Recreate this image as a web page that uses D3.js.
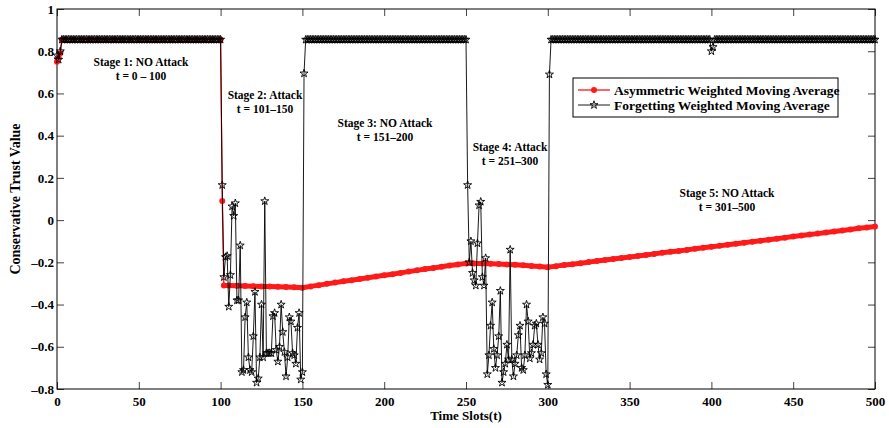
<!DOCTYPE html>
<html>
<head>
<meta charset="utf-8">
<script src="https://cdn.jsdelivr.net/npm/d3@7"></script>
<style>
  body { margin: 0; background: #fff; }
  text { font-family: "Liberation Serif", "Times New Roman", serif; font-weight: bold; fill: #000; }
</style>
</head>
<body>
<svg id="chart" width="889" height="428"></svg>
<script>
// ---- data ----
const xTicks = [0, 50, 100, 150, 200, 250, 300, 350, 400, 450, 500];
const yTicks = [-0.8, -0.6, -0.4, -0.2, 0, 0.2, 0.4, 0.6, 0.8, 1];

// Forgetting WMA: flat stretches at the plateau level, plus the noisy attack windows
const plateauLevel = 0.855;
const plateauRuns = [[3, 100], [152, 250], [302, 399], [402, 500]];
const fwmaOddT = [0, 1, 2, 151, 301, 400, 401];
const fwmaOddV = [0.78, 0.76, 0.80, 0.695, 0.69, 0.80, 0.82];
// t = 101..150
const fwmaStage2 = [0.166, -0.27, -0.175, -0.17, -0.41, -0.26, 0.065, 0.02, 0.08, -0.38,
  -0.38, -0.12, -0.72, -0.71, -0.46, -0.39, -0.65, -0.71, -0.72, -0.55,
  -0.34, -0.77, -0.75, -0.65, -0.40, -0.65, 0.09, -0.63, -0.63, -0.63,
  -0.63, -0.455, -0.44, -0.615, -0.67, -0.60, -0.40, -0.53, -0.625, -0.74,
  -0.65, -0.46, -0.48, -0.63, -0.64, -0.68, -0.51, -0.44, -0.755, -0.72];
// t = 251..300
const fwmaStage4 = [0.166, -0.20, -0.10, -0.25, -0.285, -0.31, -0.11, 0.07, 0.087, -0.27,
  -0.31, -0.18, -0.73, -0.64, -0.50, -0.39, -0.61, -0.70, -0.64, -0.55,
  -0.335, -0.77, -0.72, -0.68, -0.59, -0.66, -0.14, -0.66, -0.74, -0.68,
  -0.64, -0.545, -0.50, -0.70, -0.71, -0.64, -0.40, -0.48, -0.655, -0.63,
  -0.59, -0.50, -0.49, -0.59, -0.66, -0.63, -0.46, -0.49, -0.73, -0.78];

// Asymmetric WMA, sampled every 5 slots (plus the jumps)
const awmaT = [0, 1, 2, 3].concat(d3.range(5, 101, 5), [101, 102], d3.range(105, 501, 5));
const awmaV = [0.75, 0.77, 0.79, 0.855,
  0.855, 0.855, 0.855, 0.855, 0.855, 0.855, 0.855, 0.855, 0.855, 0.855,
  0.855, 0.855, 0.855, 0.855, 0.855, 0.855, 0.855, 0.855, 0.855, 0.855,
  0.09, -0.31,
  -0.31, -0.311, -0.312, -0.313, -0.314, -0.315, -0.316, -0.317, -0.318, -0.32,
  -0.314, -0.308, -0.302, -0.296, -0.29, -0.285, -0.279, -0.273, -0.267, -0.261,
  -0.256, -0.25, -0.244, -0.238, -0.232, -0.227, -0.221, -0.215, -0.21, -0.205,
  -0.205, -0.206, -0.207, -0.208, -0.21, -0.212, -0.214, -0.217, -0.22, -0.223,
  -0.218, -0.213, -0.209, -0.204, -0.199, -0.194, -0.189, -0.184, -0.179, -0.175,
  -0.17, -0.165, -0.16, -0.155, -0.15, -0.146, -0.141, -0.136, -0.131, -0.126,
  -0.122, -0.117, -0.112, -0.107, -0.102, -0.098, -0.093, -0.088, -0.083, -0.078,
  -0.073, -0.068, -0.064, -0.059, -0.054, -0.049, -0.044, -0.039, -0.035, -0.03];

const stageLabels = [
  { lines: ["Stage 1: NO Attack", "t = 0 – 100"], x: 141, y: 66 },
  { lines: ["Stage 2: Attack", "t = 101–150"], x: 265, y: 99 },
  { lines: ["Stage 3: NO Attack", "t = 151–200"], x: 385, y: 127 },
  { lines: ["Stage 4: Attack", "t = 251–300"], x: 510, y: 151 },
  { lines: ["Stage 5: NO Attack", "t = 301–500"], x: 727, y: 197 }
];
const legendNames = ["Asymmetric Weighted Moving Average", "Forgetting Weighted Moving Average"];

// ---- build series ----
let fwma = [];
plateauRuns.forEach(([a, b]) => {
  for (let t = a; t <= b; t++) fwma.push({ t: t, v: plateauLevel });
});
fwmaOddT.forEach((t, i) => fwma.push({ t: t, v: fwmaOddV[i] }));
fwmaStage2.forEach((v, i) => fwma.push({ t: 101 + i, v: v }));
fwmaStage4.forEach((v, i) => fwma.push({ t: 251 + i, v: v }));
fwma.sort((a, b) => a.t - b.t);

const awma = awmaT.map((t, i) => ({ t: t, v: awmaV[i] }));

// ---- layout ----
const svg = d3.select("#chart");
const mLeft = 57, mRight = 875, mTop = 9, mBottom = 389;

const x = d3.scaleLinear().domain([0, 500]).range([mLeft, mRight]);
const y = d3.scaleLinear().domain([-0.8, 1]).range([mBottom, mTop]);

const fmt = d => {
  const r = +d.toFixed(1);
  if (r === 0) return "0";
  return (r < 0 ? "–" : "") + Math.abs(r);
};

// axes with inward ticks
const tick = 7;
svg.append("g")
  .attr("transform", `translate(0,${mBottom})`)
  .call(d3.axisBottom(x).tickValues(xTicks).tickSize(-tick).tickPadding(8).tickFormat(d3.format("d")))
  .call(g => g.select(".domain").remove())
  .call(g => g.selectAll("text").attr("font-size", 13).attr("font-family", null));
svg.append("g")
  .attr("transform", `translate(0,${mTop})`)
  .call(d3.axisTop(x).tickValues(xTicks).tickSize(-tick).tickFormat(""))
  .call(g => g.select(".domain").remove());
svg.append("g")
  .attr("transform", `translate(${mLeft},0)`)
  .call(d3.axisLeft(y).tickValues(yTicks).tickSize(-tick).tickPadding(3).tickFormat(fmt))
  .call(g => g.select(".domain").remove())
  .call(g => g.selectAll("text").attr("font-size", 13).attr("font-family", null));
svg.append("g")
  .attr("transform", `translate(${mRight},0)`)
  .call(d3.axisRight(y).tickValues(yTicks).tickSize(-tick).tickFormat(""))
  .call(g => g.select(".domain").remove());
svg.selectAll(".tick line").attr("stroke", "#444");

svg.append("rect")
  .attr("x", mLeft).attr("y", mTop)
  .attr("width", mRight - mLeft).attr("height", mBottom - mTop)
  .attr("fill", "none").attr("stroke", "#000").attr("stroke-width", 1);

// axis titles
svg.append("text")
  .attr("x", (mLeft + mRight) / 2).attr("y", 420)
  .attr("text-anchor", "middle").attr("font-size", 13)
  .text("Time Slots(t)");
svg.append("text")
  .attr("transform", `translate(20,${(mTop + mBottom) / 2}) rotate(-90)`)
  .attr("text-anchor", "middle").attr("font-size", 14)
  .text("Conservative Trust Value");

// ---- series ----
const line = d3.line().x(d => x(d.t)).y(d => y(d.v));

svg.append("path")
  .datum(awma)
  .attr("d", line)
  .attr("fill", "none").attr("stroke", "#ff0000").attr("stroke-width", 1.2);
// dense markers in the original merge into a band
svg.append("path")
  .datum(awma.filter(d => d.t >= 102))
  .attr("d", line)
  .attr("fill", "none").attr("stroke", "#ff1a1a").attr("stroke-width", 5);
svg.append("g").selectAll("circle")
  .data(awma)
  .join("circle")
  .attr("cx", d => x(d.t)).attr("cy", d => y(d.v))
  .attr("r", 3).attr("fill", "#ff1a1a");

svg.append("path")
  .datum(fwma)
  .attr("d", line)
  .attr("fill", "none").attr("stroke", "#000").attr("stroke-width", 0.9);
const star = d3.symbol().type(d3.symbolStar).size(20);
svg.append("g").selectAll("path")
  .data(fwma)
  .join("path")
  .attr("transform", d => `translate(${x(d.t)},${y(d.v)})`)
  .attr("d", star)
  .attr("fill", "none").attr("stroke", "#000").attr("stroke-width", 0.9);

// ---- stage annotations ----
stageLabels.forEach(s => {
  s.lines.forEach((ln, i) => {
    svg.append("text")
      .attr("x", s.x).attr("y", s.y + i * 14)
      .attr("text-anchor", "middle").attr("font-size", 11.5)
      .text(ln);
  });
});

// ---- legend ----
const lg = svg.append("g").attr("transform", "translate(573,78)");
lg.append("rect").attr("width", 265).attr("height", 39)
  .attr("fill", "#fff").attr("stroke", "#000").attr("stroke-width", 1);
legendNames.forEach((name, i) => {
  const yy = 12 + i * 15;
  lg.append("line").attr("x1", 5).attr("x2", 37).attr("y1", yy).attr("y2", yy)
    .attr("stroke", i === 0 ? "#ff0000" : "#000").attr("stroke-width", i === 0 ? 1.2 : 0.9);
  if (i === 0) {
    lg.append("circle").attr("cx", 21).attr("cy", yy).attr("r", 3).attr("fill", "#ff1a1a");
  } else {
    lg.append("path").attr("transform", `translate(21,${yy})`).attr("d", star)
      .attr("fill", "none").attr("stroke", "#000").attr("stroke-width", 0.9);
  }
  lg.append("text").attr("x", 41).attr("y", yy + 4.5).attr("font-size", 13.5).text(name);
});
</script>
</body>
</html>
